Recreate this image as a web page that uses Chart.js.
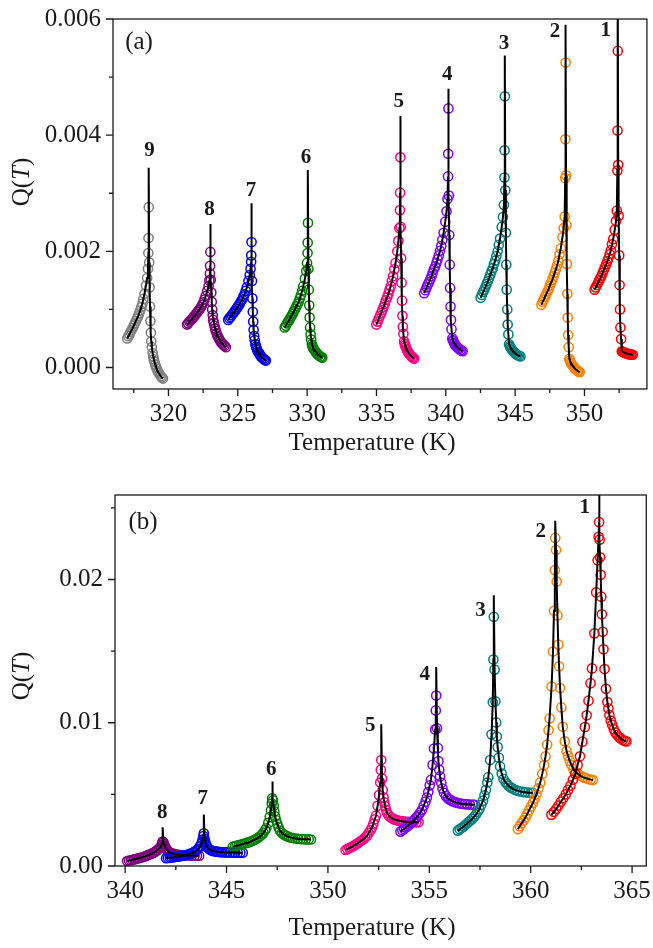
<!DOCTYPE html>
<html>
<head>
<meta charset="utf-8">
<script src="https://cdn.jsdelivr.net/npm/chart.js@4.4.1/dist/chart.umd.min.js"></script>
<style>
  html, body { margin: 0; padding: 0; background: #fff; }
  body { width: 653px; height: 948px; position: relative; overflow: hidden; }
  canvas { position: absolute; left: 0; }
  #chartA { top: 0; }
  #chartB { top: 470px; }
</style>
</head>
<body>
<canvas id="chartA" width="653" height="470"></canvas>
<canvas id="chartB" width="653" height="478"></canvas>
<script>
// series 1..9 colours
const seriesColors = ['#ff0000', '#ff8000', '#008080', '#8000ff', '#ff0080', '#008000', '#0000ff', '#800080', '#808080'];

// ---- panel (a): Q(T) data, temperature in K ----
const a1T = [350.73,350.81,350.90,350.98,351.06,351.15,351.23,351.31,351.40,351.48,351.57,351.65,351.73,351.82,351.90,351.98,352.07,352.18,352.27,352.33,352.37,352.38,352.40,
             352.43,352.46,352.50,352.53,352.56,352.59,352.64,352.69,352.73,352.78,352.83,352.89,352.95,353.02,353.08,353.16,353.23,353.32,353.39,353.48];
const a1Q = [0.00134,0.00138,0.00142,0.00146,0.00150,0.00154,0.00158,0.00163,0.00168,0.00173,0.00178,0.00183,0.00188,0.00195,0.00202,0.00212,0.00221,0.00237,0.00252,0.00270,0.00339,0.00408,0.00545,
             0.00349,0.00261,0.00193,0.00142,0.00100,0.00069,0.00049,0.00028,0.00027,0.00027,0.00026,0.00025,0.00025,0.00024,0.00024,0.00023,0.00023,0.00023,0.00022,0.00022];
const a2T = [346.89,346.98,347.07,347.15,347.24,347.33,347.42,347.50,347.59,347.68,347.77,347.85,347.94,348.03,348.12,348.20,348.29,348.41,348.50,348.57,348.61,348.62,348.64,
             348.67,348.70,348.73,348.76,348.79,348.82,348.86,348.91,348.95,348.99,349.04,349.09,349.16,349.22,349.28,349.35,349.42,349.50,349.57,349.65];
const a2Q = [0.00108,0.00113,0.00117,0.00122,0.00126,0.00131,0.00135,0.00141,0.00146,0.00151,0.00157,0.00163,0.00169,0.00176,0.00184,0.00195,0.00205,0.00224,0.00240,0.00260,0.00326,0.00393,0.00525,
             0.00331,0.00245,0.00178,0.00127,0.00086,0.00056,0.00035,0.00015,0.00012,0.00009,0.00007,0.00005,0.00003,0.00001,-0.00001,-0.00003,-0.00004,-0.00006,-0.00007,-0.00008];
const a3T = [342.51,342.60,342.69,342.77,342.86,342.95,343.04,343.12,343.21,343.30,343.39,343.47,343.56,343.65,343.74,343.82,343.91,344.03,344.12,344.19,344.23,344.24,344.26,
             344.29,344.33,344.36,344.39,344.43,344.46,344.51,344.56,344.61,344.65,344.71,344.76,344.83,344.90,344.97,345.04,345.12,345.21,345.29,345.38];
const a3Q = [0.00120,0.00125,0.00130,0.00134,0.00139,0.00144,0.00149,0.00154,0.00160,0.00166,0.00171,0.00178,0.00184,0.00192,0.00200,0.00211,0.00222,0.00242,0.00259,0.00280,0.00327,0.00374,0.00467,
             0.00305,0.00232,0.00177,0.00134,0.00100,0.00074,0.00057,0.00040,0.00037,0.00035,0.00033,0.00031,0.00029,0.00027,0.00025,0.00024,0.00022,0.00021,0.00020,0.00019];
const a4T = [338.44,338.53,338.62,338.70,338.79,338.88,338.97,339.05,339.14,339.23,339.32,339.40,339.49,339.58,339.67,339.75,339.84,339.96,340.05,340.12,340.16,340.17,340.19,
             340.22,340.25,340.28,340.31,340.34,340.37,340.41,340.47,340.51,340.55,340.60,340.65,340.71,340.77,340.83,340.90,340.98,341.06,341.13,341.21];
const a4Q = [0.00128,0.00133,0.00138,0.00143,0.00147,0.00152,0.00157,0.00163,0.00169,0.00174,0.00180,0.00186,0.00193,0.00201,0.00209,0.00220,0.00232,0.00251,0.00269,0.00290,0.00329,0.00368,0.00446,
             0.00296,0.00228,0.00177,0.00137,0.00105,0.00082,0.00066,0.00050,0.00047,0.00045,0.00042,0.00040,0.00038,0.00036,0.00035,0.00033,0.00032,0.00030,0.00029,0.00028];
const a5T = [334.99,335.08,335.16,335.25,335.34,335.42,335.51,335.60,335.68,335.77,335.86,335.94,336.03,336.11,336.20,336.29,336.37,336.50,336.58,336.65,336.69,336.70,336.72,
             336.75,336.78,336.81,336.84,336.87,336.90,336.94,336.99,337.03,337.07,337.12,337.17,337.23,337.29,337.35,337.42,337.49,337.57,337.64,337.72];
const a5Q = [0.00074,0.00079,0.00084,0.00089,0.00094,0.00099,0.00104,0.00110,0.00116,0.00121,0.00127,0.00134,0.00140,0.00149,0.00157,0.00169,0.00180,0.00200,0.00218,0.00240,0.00271,0.00301,0.00362,
             0.00242,0.00188,0.00146,0.00115,0.00089,0.00070,0.00058,0.00045,0.00041,0.00038,0.00035,0.00032,0.00029,0.00026,0.00024,0.00022,0.00020,0.00018,0.00017,0.00015];
const a6T = [328.38,328.46,328.55,328.63,328.72,328.80,328.88,328.97,329.05,329.14,329.22,329.30,329.39,329.47,329.56,329.64,329.72,329.84,329.93,329.99,330.03,330.04,330.06,
             330.09,330.12,330.15,330.18,330.21,330.25,330.29,330.34,330.38,330.42,330.47,330.52,330.59,330.65,330.71,330.78,330.85,330.94,331.01,331.09];
const a6Q = [0.00069,0.00072,0.00076,0.00079,0.00082,0.00086,0.00089,0.00093,0.00097,0.00101,0.00105,0.00109,0.00113,0.00119,0.00125,0.00132,0.00140,0.00153,0.00166,0.00180,0.00197,0.00215,0.00249,
             0.00170,0.00134,0.00107,0.00086,0.00069,0.00057,0.00048,0.00040,0.00037,0.00034,0.00032,0.00030,0.00028,0.00026,0.00024,0.00022,0.00021,0.00019,0.00018,0.00017];
const a7T = [324.31,324.39,324.48,324.56,324.65,324.73,324.81,324.90,324.98,325.07,325.15,325.23,325.32,325.40,325.49,325.57,325.65,325.77,325.86,325.92,325.96,325.97,325.99,
             326.02,326.05,326.08,326.11,326.14,326.18,326.22,326.27,326.31,326.35,326.40,326.45,326.52,326.58,326.64,326.71,326.78,326.87,326.94,327.02];
const a7Q = [0.00082,0.00085,0.00087,0.00090,0.00093,0.00095,0.00098,0.00101,0.00104,0.00107,0.00110,0.00114,0.00117,0.00122,0.00126,0.00132,0.00138,0.00149,0.00159,0.00170,0.00182,0.00193,0.00216,
             0.00149,0.00119,0.00096,0.00079,0.00065,0.00054,0.00047,0.00040,0.00036,0.00033,0.00030,0.00027,0.00025,0.00023,0.00020,0.00018,0.00016,0.00015,0.00013,0.00012];
const a8T = [321.34,321.42,321.51,321.59,321.68,321.76,321.84,321.93,322.01,322.10,322.18,322.26,322.35,322.43,322.52,322.60,322.68,322.80,322.89,322.95,322.99,323.00,323.02,
             323.05,323.09,323.12,323.15,323.19,323.22,323.27,323.32,323.37,323.41,323.47,323.52,323.59,323.66,323.73,323.80,323.88,323.97,324.05,324.14];
const a8Q = [0.00074,0.00076,0.00079,0.00081,0.00083,0.00085,0.00088,0.00090,0.00093,0.00096,0.00098,0.00101,0.00104,0.00108,0.00112,0.00117,0.00123,0.00132,0.00140,0.00150,0.00162,0.00175,0.00199,
             0.00151,0.00129,0.00113,0.00100,0.00090,0.00082,0.00077,0.00072,0.00067,0.00063,0.00059,0.00055,0.00052,0.00049,0.00046,0.00043,0.00041,0.00039,0.00037,0.00035];
const a9T = [317.03,317.11,317.19,317.26,317.34,317.42,317.50,317.57,317.65,317.73,317.81,317.88,317.96,318.04,318.12,318.19,318.27,318.38,318.46,318.52,318.55,318.56,318.58,
             318.61,318.64,318.67,318.70,318.73,318.76,318.80,318.86,318.90,318.94,318.99,319.04,319.10,319.16,319.22,319.29,319.37,319.45,319.52,319.60];
const a9Q = [0.00050,0.00054,0.00057,0.00061,0.00064,0.00068,0.00072,0.00076,0.00080,0.00084,0.00088,0.00093,0.00098,0.00104,0.00110,0.00118,0.00127,0.00141,0.00154,0.00170,0.00197,0.00223,0.00276,
             0.00181,0.00138,0.00105,0.00080,0.00060,0.00045,0.00035,0.00025,0.00019,0.00014,0.00010,0.00005,0.00001,-0.00002,-0.00006,-0.00009,-0.00012,-0.00015,-0.00017,-0.00019];
// height of the fitted curve at Tc
const fitPeakA = [0.0068, 0.0059, 0.00537, 0.0048, 0.00433, 0.0034, 0.00283, 0.00247, 0.00344];

// ---- panel (b) ----
const b1T = [361.02,361.14,361.26,361.37,361.49,361.61,361.73,361.84,361.96,362.08,362.20,362.31,362.43,362.55,362.67,362.76,362.85,362.95,363.02,363.14,363.23,363.30,363.35,363.37,
             363.40,363.42,363.45,363.48,363.51,363.55,363.59,363.64,363.71,363.78,363.83,363.88,363.95,364.02,364.10,364.18,364.27,364.37,364.45,364.54,364.64,364.72];
const b1Q = [0.00357,0.00377,0.00398,0.00422,0.00449,0.00473,0.00500,0.00531,0.00561,0.00602,0.00643,0.00704,0.00766,0.00868,0.00970,0.01052,0.01154,0.01276,0.01379,0.01624,0.01910,0.02134,0.02298,0.02400,
             0.02278,0.02155,0.02033,0.01880,0.01757,0.01635,0.01513,0.01375,0.01237,0.01145,0.01100,0.01054,0.01015,0.00985,0.00954,0.00931,0.00913,0.00898,0.00888,0.00879,0.00873,0.00870];
const b2T = [359.37,359.46,359.55,359.65,359.74,359.83,359.92,360.01,360.11,360.20,360.29,360.38,360.47,360.57,360.66,360.73,360.81,360.88,360.93,361.03,361.10,361.15,361.19,361.21,
             361.25,361.28,361.32,361.36,361.40,361.45,361.51,361.58,361.68,361.77,361.84,361.92,362.01,362.10,362.21,362.33,362.46,362.59,362.70,362.83,362.96,363.07];
const b2Q = [0.00257,0.00277,0.00298,0.00318,0.00338,0.00363,0.00389,0.00414,0.00440,0.00470,0.00501,0.00542,0.00582,0.00643,0.00704,0.00765,0.00847,0.00948,0.01030,0.01253,0.01497,0.01782,0.02066,0.02290,
             0.02206,0.01986,0.01749,0.01546,0.01394,0.01242,0.01107,0.00972,0.00870,0.00803,0.00769,0.00735,0.00705,0.00676,0.00657,0.00642,0.00629,0.00619,0.00614,0.00608,0.00603,0.00600];
const b3T = [356.41,356.50,356.59,356.68,356.76,356.85,356.94,357.03,357.12,357.21,357.30,357.38,357.47,357.56,357.65,357.72,357.79,357.86,357.91,358.00,358.07,358.13,358.16,358.18,
             358.22,358.26,358.30,358.33,358.37,358.43,358.49,358.57,358.66,358.76,358.84,358.91,359.01,359.11,359.22,359.34,359.47,359.61,359.72,359.86,359.99,360.11];
const b3Q = [0.00247,0.00256,0.00265,0.00274,0.00284,0.00295,0.00307,0.00317,0.00329,0.00344,0.00359,0.00377,0.00396,0.00426,0.00456,0.00493,0.00531,0.00583,0.00620,0.00740,0.00919,0.01143,0.01441,0.01740,
             0.01371,0.01150,0.01002,0.00904,0.00830,0.00756,0.00695,0.00645,0.00608,0.00584,0.00572,0.00559,0.00549,0.00541,0.00532,0.00526,0.00521,0.00517,0.00515,0.00512,0.00511,0.00510];
const b4T = [353.58,353.67,353.76,353.84,353.93,354.02,354.11,354.20,354.28,354.37,354.46,354.55,354.64,354.72,354.81,354.88,354.95,355.02,355.08,355.16,355.23,355.29,355.32,355.34,
             355.38,355.42,355.45,355.49,355.53,355.59,355.65,355.72,355.82,355.91,355.99,356.07,356.16,356.26,356.37,356.49,356.62,356.75,356.87,357.00,357.14,357.25];
const b4Q = [0.00240,0.00250,0.00259,0.00269,0.00278,0.00289,0.00302,0.00313,0.00326,0.00340,0.00354,0.00373,0.00392,0.00421,0.00449,0.00478,0.00516,0.00563,0.00601,0.00706,0.00820,0.00953,0.01086,0.01190,
             0.00961,0.00824,0.00732,0.00671,0.00625,0.00580,0.00541,0.00511,0.00488,0.00473,0.00465,0.00458,0.00451,0.00446,0.00441,0.00437,0.00434,0.00432,0.00430,0.00429,0.00428,0.00427];
const b5T = [350.87,350.96,351.05,351.13,351.22,351.31,351.40,351.49,351.57,351.66,351.75,351.84,351.93,352.01,352.10,352.17,352.24,352.31,352.37,352.45,352.52,352.58,352.61,352.63,
             352.67,352.70,352.74,352.78,352.81,352.87,352.92,353.00,353.09,353.18,353.26,353.33,353.42,353.51,353.62,353.73,353.86,353.99,354.10,354.23,354.36,354.47];
const b5Q = [0.00112,0.00118,0.00125,0.00131,0.00137,0.00145,0.00153,0.00160,0.00169,0.00178,0.00187,0.00200,0.00212,0.00231,0.00250,0.00269,0.00294,0.00326,0.00351,0.00420,0.00495,0.00583,0.00671,0.00740,
             0.00610,0.00531,0.00479,0.00444,0.00418,0.00392,0.00370,0.00353,0.00340,0.00331,0.00327,0.00322,0.00319,0.00316,0.00313,0.00311,0.00309,0.00308,0.00307,0.00306,0.00305,0.00305];
const b6T = [345.31,345.41,345.50,345.60,345.70,345.80,345.89,345.99,346.09,346.18,346.28,346.38,346.47,346.57,346.67,346.75,346.82,346.90,346.96,347.06,347.13,347.19,347.23,347.25,
             347.29,347.33,347.36,347.40,347.44,347.50,347.56,347.63,347.73,347.82,347.90,347.98,348.07,348.17,348.28,348.40,348.53,348.66,348.78,348.91,349.05,349.16];
const b6Q = [0.00135,0.00138,0.00142,0.00145,0.00149,0.00153,0.00157,0.00161,0.00165,0.00170,0.00176,0.00182,0.00189,0.00199,0.00209,0.00220,0.00233,0.00250,0.00263,0.00301,0.00341,0.00389,0.00436,0.00473,
             0.00459,0.00421,0.00381,0.00346,0.00320,0.00294,0.00271,0.00248,0.00231,0.00220,0.00214,0.00208,0.00203,0.00198,0.00195,0.00192,0.00190,0.00188,0.00187,0.00186,0.00186,0.00185];
const b7T = [342.02,342.11,342.21,342.30,342.39,342.49,342.58,342.67,342.76,342.86,342.95,343.04,343.14,343.23,343.32,343.40,343.47,343.55,343.60,343.69,343.77,343.82,343.86,343.88,
             343.92,343.96,344.00,344.03,344.07,344.13,344.19,344.26,344.36,344.46,344.53,344.61,344.71,344.80,344.92,345.03,345.17,345.30,345.42,345.55,345.68,345.80];
const b7Q = [0.00054,0.00056,0.00057,0.00059,0.00061,0.00063,0.00065,0.00067,0.00070,0.00072,0.00075,0.00078,0.00082,0.00087,0.00092,0.00098,0.00104,0.00113,0.00120,0.00139,0.00160,0.00185,0.00209,0.00228,
             0.00188,0.00163,0.00147,0.00136,0.00128,0.00120,0.00113,0.00108,0.00104,0.00101,0.00100,0.00098,0.00097,0.00096,0.00095,0.00095,0.00094,0.00094,0.00094,0.00093,0.00093,0.00093];
const b8T = [340.10,340.19,340.28,340.36,340.45,340.54,340.63,340.71,340.80,340.89,340.98,341.06,341.15,341.24,341.33,341.40,341.47,341.54,341.59,341.68,341.75,341.80,341.83,341.85,
             341.89,341.92,341.96,341.99,342.03,342.08,342.14,342.21,342.30,342.39,342.46,342.53,342.62,342.71,342.82,342.93,343.06,343.18,343.29,343.42,343.54,343.65];
const b8Q = [0.00035,0.00038,0.00040,0.00043,0.00046,0.00049,0.00053,0.00056,0.00059,0.00063,0.00067,0.00072,0.00077,0.00082,0.00088,0.00093,0.00098,0.00105,0.00111,0.00123,0.00135,0.00148,0.00161,0.00170,
             0.00165,0.00152,0.00139,0.00127,0.00118,0.00109,0.00101,0.00094,0.00088,0.00084,0.00082,0.00080,0.00078,0.00076,0.00075,0.00074,0.00074,0.00073,0.00073,0.00072,0.00072,0.00072];
const fitPeakB = [0.0285, 0.0241, 0.0189, 0.0139, 0.0099, 0.0059, 0.0036, 0.0027];

// ticks
const xTicksA = [320, 325, 330, 335, 340, 345, 350];
const xMinorA = [317.5, 322.5, 327.5, 332.5, 337.5, 342.5, 347.5, 352.5];
const yTicksA = [0, 0.002, 0.004, 0.006];
const yMinorA = [0.001, 0.003, 0.005];
const xTicksB = [340, 345, 350, 355, 360, 365];
const xMinorB = [342.5, 347.5, 352.5, 357.5, 362.5];
const yTicksB = [0, 0.01, 0.02];
const yMinorB = [0.005, 0.015, 0.025];

// curve number labels, placed in data units
const labelTA = [351.54, 347.87, 344.19, 340.11, 336.60, 329.91, 325.96, 322.95, 318.64];
const labelQA = [0.00580, 0.00579, 0.00558, 0.00505, 0.00458, 0.00361, 0.00305, 0.00272, 0.00373];
const labelTB = [362.66, 360.49, 357.53, 354.77, 352.09, 347.20, 343.83, 341.83];
const labelQB = [0.02501, 0.02338, 0.01783, 0.01336, 0.00979, 0.00671, 0.00469, 0.00376];

const FONT = '"Liberation Serif", "Times New Roman", serif';
const INK = '#1a1a1a';

function buildDatasets(Ts, Qs, peaks) {
    const sets = [];
    Ts.forEach((T, i) => {
        const Q = Qs[i];
        const pts = T.map((t, j) => ({x: t, y: Q[j]}));
        let k = 0;
        Q.forEach((q, j) => { if (q > Q[k]) k = j; });
        // fitted curve: through the data, spiking up at Tc
        const fit = pts.slice(0, k + 1).concat([{x: T[k], y: peaks[i]}], pts.slice(k + 1));
        sets.push({
            type: 'line', data: fit, borderColor: '#000', borderWidth: 2,
            pointRadius: 0, tension: 0, order: 1, clip: 0
        });
        sets.push({
            type: 'scatter', data: pts, borderColor: seriesColors[i],
            backgroundColor: 'rgba(0,0,0,0)', pointRadius: 4.6, pointBorderWidth: 1.5,
            order: 2, clip: 0
        });
    });
    return sets;
}

// frame, minor ticks and all the free text
const decor = {
    id: 'decor',
    afterDraw(chart, args, o) {
        const {ctx, chartArea: a} = chart;
        const x = chart.scales.x, y = chart.scales.y;
        ctx.save();
        ctx.strokeStyle = INK;
        ctx.lineWidth = 1.3;
        ctx.strokeRect(a.left, a.top, a.right - a.left, a.bottom - a.top);
        ctx.beginPath();
        o.xMajor.forEach(v => { const px = x.getPixelForValue(v); ctx.moveTo(px, a.bottom); ctx.lineTo(px, a.bottom + 7); });
        o.xMinor.forEach(v => { const px = x.getPixelForValue(v); ctx.moveTo(px, a.bottom); ctx.lineTo(px, a.bottom + 4); });
        o.yMajor.forEach(v => { const py = y.getPixelForValue(v); ctx.moveTo(a.left, py); ctx.lineTo(a.left - 7, py); });
        o.yMinor.forEach(v => { const py = y.getPixelForValue(v); ctx.moveTo(a.left, py); ctx.lineTo(a.left - 4, py); });
        ctx.stroke();

        ctx.fillStyle = INK;
        ctx.textAlign = 'center';
        ctx.textBaseline = 'middle';
        ctx.font = '25px ' + FONT;
        ctx.fillText(o.letter, a.left + o.letterDx, a.top + o.letterDy);
        ctx.fillText('Temperature (K)', o.xTitleX, o.xTitleY);

        ctx.font = 'bold 21px ' + FONT;
        o.labelT.forEach((t, i) => {
            ctx.fillText(String(i + 1), x.getPixelForValue(t), y.getPixelForValue(o.labelQ[i]));
        });

        // rotated y title Q(T) with italic T
        ctx.translate(22, o.yTitleY);
        ctx.rotate(-Math.PI / 2);
        ctx.textAlign = 'left';
        const up = '25px ' + FONT, it = 'italic 25px ' + FONT;
        ctx.font = up; const w1 = ctx.measureText('Q(').width, w3 = ctx.measureText(')').width;
        ctx.font = it; const w2 = ctx.measureText('T').width;
        let cx = -(w1 + w2 + w3) / 2;
        ctx.font = up; ctx.fillText('Q(', cx, 0); cx += w1;
        ctx.font = it; ctx.fillText('T', cx, 0); cx += w2;
        ctx.font = up; ctx.fillText(')', cx, 0);
        ctx.restore();
    }
};

function makeChart(id, cfg) {
    return new Chart(document.getElementById(id), {
        type: 'scatter',
        data: {datasets: buildDatasets(cfg.Ts, cfg.Qs, cfg.peaks)},
        options: {
            responsive: false,
            animation: false,
            events: [],
            layout: {padding: cfg.padding},
            plugins: {legend: {display: false}, tooltip: {enabled: false}, decor: cfg.decor},
            scales: {
                x: {
                    type: 'linear', min: cfg.xMin, max: cfg.xMax,
                    grid: {display: false}, border: {display: false},
                    afterBuildTicks: s => { s.ticks = cfg.xTicks.map(v => ({value: v})); },
                    afterFit: s => { s.height = cfg.xHeight; },
                    ticks: {font: {family: FONT, size: 25}, color: INK, padding: 2, autoSkip: false, maxRotation: 0,
                            callback: v => String(v)}
                },
                y: {
                    type: 'linear', min: cfg.yMin, max: cfg.yMax,
                    grid: {display: false}, border: {display: false},
                    afterBuildTicks: s => { s.ticks = cfg.yTicks.map(v => ({value: v})); },
                    afterFit: s => { s.width = cfg.yWidth; },
                    ticks: {font: {family: FONT, size: 25}, color: INK, padding: 4,
                            callback: v => v.toFixed(cfg.yDigits)}
                }
            }
        },
        plugins: [decor]
    });
}

makeChart('chartA', {
    Ts: [a1T, a2T, a3T, a4T, a5T, a6T, a7T, a8T, a9T],
    Qs: [a1Q, a2Q, a3Q, a4Q, a5Q, a6Q, a7Q, a8Q, a9Q],
    peaks: fitPeakA,
    padding: {left: 0, top: 15, right: 4, bottom: 0},
    xMin: 316, xMax: 354.5, yMin: -0.00037, yMax: 0.006,
    xTicks: xTicksA, yTicks: yTicksA, yDigits: 3,
    xHeight: 81, yWidth: 113,
    decor: {xMajor: xTicksA, xMinor: xMinorA, yMajor: yTicksA, yMinor: yMinorA,
            letter: '(a)', letterDx: 26, letterDy: 23,
            labelT: labelTA, labelQ: labelQA,
            xTitleX: 372, xTitleY: 443, yTitleY: 182}
});

makeChart('chartB', {
    Ts: [b1T, b2T, b3T, b4T, b5T, b6T, b7T, b8T],
    Qs: [b1Q, b2Q, b3Q, b4Q, b5Q, b6Q, b7Q, b8Q],
    peaks: fitPeakB,
    padding: {left: 0, top: 25, right: 6, bottom: 0},
    xMin: 339.5, xMax: 365.7, yMin: 0, yMax: 0.0259,
    xTicks: xTicksB, yTicks: yTicksB, yDigits: 2,
    xHeight: 82, yWidth: 115,
    decor: {xMajor: xTicksB, xMinor: xMinorB, yMajor: yTicksB, yMinor: yMinorB,
            letter: '(b)', letterDx: 28, letterDy: 27,
            labelT: labelTB, labelQ: labelQB,
            xTitleX: 372, xTitleY: 458, yTitleY: 206}
});
</script>
</body>
</html>
